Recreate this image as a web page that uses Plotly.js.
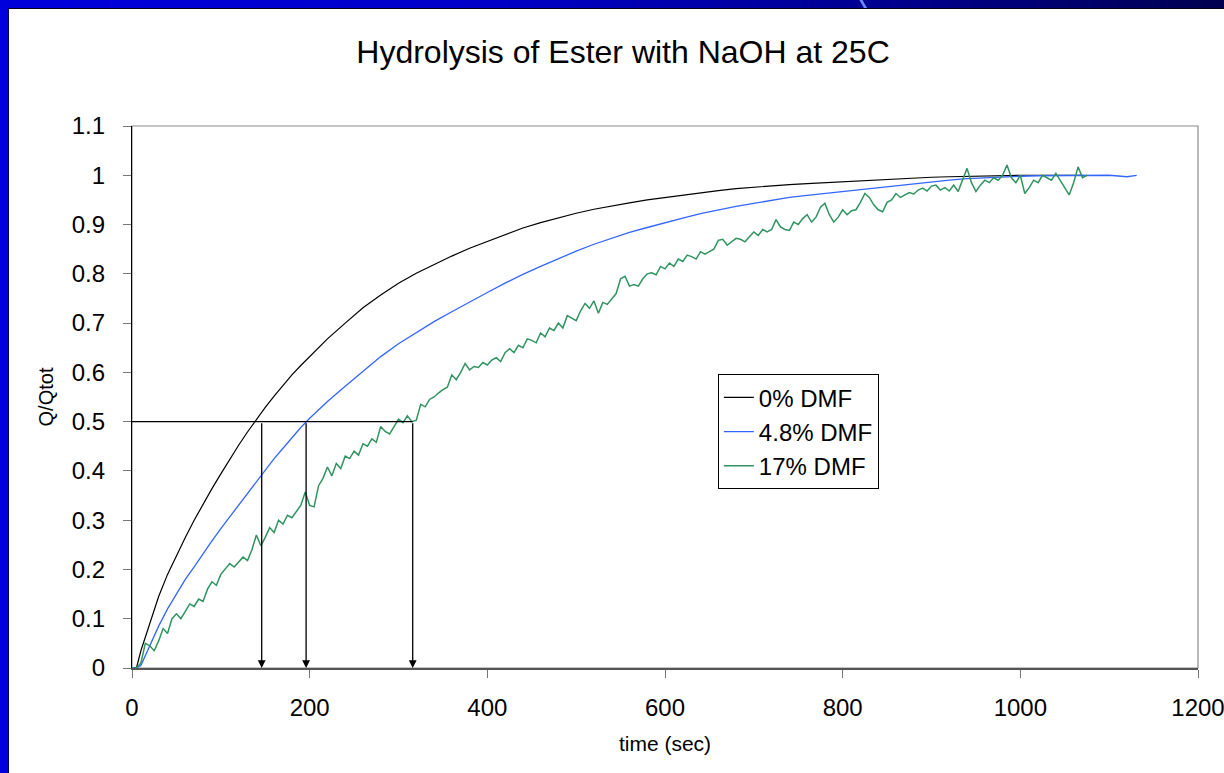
<!DOCTYPE html>
<html>
<head>
<meta charset="utf-8">
<script src="https://cdn.plot.ly/plotly-3.0.1.min.js"></script>
<style>
html,body{margin:0;padding:0;background:#fff;}
#wrap{position:relative;width:1224px;height:773px;background:#fff;overflow:hidden;}
#topband{position:absolute;left:0;top:0;width:1224px;height:8px;background:linear-gradient(to right,#0000dc 0%,#0000c8 40%,#00008a 75%,#000050 100%);}
#topline{position:absolute;left:8px;top:8px;width:1216px;height:1px;background:#000020;}
#leftband{position:absolute;left:0;top:0;width:8px;height:773px;background:#0000dc;}
#leftline{position:absolute;left:8px;top:8px;width:1px;height:765px;background:#000040;}
#stripe{position:absolute;left:862px;top:0;width:3px;height:9px;background:#6a8cff;transform:skewX(30deg);}
#chart{position:absolute;left:0;top:0;width:1224px;height:773px;}
</style>
</head>
<body>
<div id="wrap">
<div id="chart"></div>
<div id="topband"></div><div id="stripe"></div><div id="topline"></div>
<div id="leftband"></div><div id="leftline"></div>
</div>
<script>
// ---- data ----
const seriesNames = ["0% DMF", "4.8% DMF", "17% DMF"];

const t0 = [0,5,10,20,30,40,50,60,70,80,90,100,110,120,130,140,150,160,170,180,190,200,
  220,240,260,280,300,320,340,360,380,400,420,440,460,480,500,520,540,560,580,600,620,640,660,680,
  700,720,740,760,780,800,820,840,860,880,900,920,940,960,980,1000,1020,1040,1060,1071];
const q0 = [0,0.0,0.035,0.09,0.145,0.19,0.228,0.265,0.3,0.333,0.364,0.394,0.424,0.452,0.479,0.505,0.529,0.552,0.574,0.595,0.614,0.632,
  0.668,0.7,0.731,0.757,0.781,0.801,0.819,0.836,0.852,0.866,0.88,0.893,0.904,0.914,0.923,0.931,0.938,0.944,0.95,0.955,0.96,0.965,0.969,0.973,
  0.976,0.979,0.981,0.983,0.985,0.987,0.989,0.991,0.993,0.994,0.996,0.997,0.998,0.999,1.0,1.0,1.0,1.0,1.0,1.0];

const t48 = [0,5,10,20,30,40,50,60,70,80,90,100,110,120,130,140,150,160,170,180,190,200,
  220,240,260,280,300,320,340,360,380,400,420,440,460,480,500,520,540,560,580,600,620,640,660,680,
  700,720,740,760,780,800,820,840,860,880,900,920,940,960,980,1000,1020,1040,1060,1080,1100,1120,1131];
const q48 = [0,0,0.005,0.045,0.085,0.12,0.15,0.18,0.205,0.232,0.258,0.283,0.307,0.331,0.355,0.379,0.403,0.425,0.446,0.468,0.488,0.507,
  0.541,0.572,0.602,0.632,0.658,0.681,0.703,0.723,0.743,0.762,0.781,0.799,0.815,0.831,0.846,0.86,0.872,0.884,0.894,0.904,0.913,0.922,0.93,0.937,
  0.943,0.949,0.955,0.959,0.963,0.967,0.971,0.975,0.979,0.983,0.986,0.99,0.993,0.995,0.997,0.998,0.999,0.999,1.0,1.0,1.0,0.997,1.0];

const t17 = [0,5,10,15,20,25,30,35,40,45,50,55,60,65,70,75,80,85,90,95,
  100,105,110,115,120,125,130,135,140,145,150,155,160,165,170,175,180,185,190,195,
  200,205,210,215,220,225,230,235,240,245,250,255,260,265,270,275,280,285,290,295,
  300,305,310,315,320,325,330,335,340,345,350,355,360,365,370,375,380,385,390,395,
  400,405,410,415,420,425,430,435,440,445,450,455,460,465,470,475,480,485,490,495,
  500,505,510,515,520,525,530,535,540,545,550,555,560,565,570,575,580,585,590,595,
  600,605,610,615,620,625,630,635,640,645,650,655,660,665,670,675,680,685,690,695,
  700,705,710,715,720,725,730,735,740,745,750,755,760,765,770,775,780,785,790,795,
  800,805,810,815,820,825,830,835,840,845,850,855,860,865,870,875,880,885,890,895,
  900,905,910,915,920,925,930,935,940,945,950,955,960,965,970,975,980,985,990,995,
  1000,1005,1010,1015,1020,1025,1030,1035,1040,1045,1050,1055,1060,1065,1070,1075];
const q17 = [0,0.0,0.01,0.05,0.045,0.035,0.055,0.08,0.07,0.1,0.11,0.1,0.115,0.13,0.125,0.14,0.135,0.16,0.175,0.168,
  0.19,0.2,0.212,0.205,0.215,0.225,0.218,0.24,0.27,0.248,0.265,0.285,0.275,0.3,0.292,0.31,0.305,0.318,0.33,0.357,
  0.33,0.327,0.37,0.385,0.408,0.39,0.415,0.405,0.43,0.425,0.44,0.432,0.455,0.45,0.465,0.458,0.49,0.48,0.475,0.49,
  0.505,0.498,0.512,0.5,0.503,0.535,0.53,0.545,0.55,0.558,0.565,0.57,0.595,0.585,0.6,0.618,0.605,0.612,0.61,0.62,
  0.615,0.625,0.63,0.622,0.64,0.648,0.64,0.655,0.65,0.668,0.665,0.66,0.68,0.672,0.69,0.685,0.7,0.69,0.715,0.71,
  0.705,0.725,0.74,0.73,0.745,0.72,0.742,0.738,0.75,0.76,0.79,0.795,0.775,0.778,0.775,0.79,0.8,0.802,0.798,0.815,
  0.81,0.822,0.815,0.83,0.825,0.838,0.835,0.83,0.845,0.84,0.845,0.85,0.868,0.87,0.858,0.865,0.872,0.87,0.865,0.875,
  0.885,0.878,0.89,0.885,0.89,0.91,0.895,0.89,0.888,0.905,0.9,0.912,0.92,0.905,0.915,0.935,0.943,0.92,0.905,0.915,
  0.93,0.92,0.928,0.93,0.945,0.963,0.955,0.94,0.93,0.926,0.945,0.95,0.963,0.955,0.96,0.965,0.962,0.97,0.974,0.968,
  0.978,0.98,0.97,0.975,0.968,0.98,0.967,0.99,1.014,0.985,0.967,0.98,0.99,0.985,0.995,0.99,1.0,1.021,0.995,0.985,
  1.0,0.963,0.975,0.99,0.985,1.0,0.995,0.99,1.004,0.99,0.975,0.96,0.985,1.017,0.995,1.0];

// half-life markers (time where Q/Qtot = 0.5)
const halfTimes = [146, 196, 316];
const halfLevel = 0.5;

const xTicks = [0,200,400,600,800,1000,1200];
const yTicks = [0,0.1,0.2,0.3,0.4,0.5,0.6,0.7,0.8,0.9,1,1.1];

// ---- chart ----
const FONT = "Liberation Sans, Arial, sans-serif";
const colors = ["#000000", "#3366ff", "#2f9460"];
const widths = [1.2, 1.3, 1.5];
const xs = [t0, t48, t17], ys = [q0, q48, q17];

const traces = seriesNames.map((n, i) => ({
  type: "scatter", mode: "lines", name: n, x: xs[i], y: ys[i],
  legendgroup: "g" + i,
  line: {color: colors[i], width: widths[i]}
}));

const annotations = halfTimes.map(t => ({
  x: t, y: 0, ax: t, ay: halfLevel, xref: "x", yref: "y", axref: "x", ayref: "y",
  text: "", showarrow: true, arrowhead: 2, arrowsize: 1.2, arrowwidth: 1.3, arrowcolor: "#000", standoff: 0
}));

const shapes = [
  {type: "rect", xref: "paper", yref: "paper", x0: 0, x1: 1, y0: 0, y1: 1, line: {color: "#8c8c8c", width: 1.2}, layer: "below"},
  {type: "line", xref: "x", yref: "y", x0: 0, x1: Math.max(...halfTimes), y0: halfLevel, y1: halfLevel, line: {color: "#000", width: 1.4}}
];

const layout = {
  width: 1224, height: 773,
  paper_bgcolor: "rgba(0,0,0,0)", plot_bgcolor: "#fff",
  margin: {l: 132, r: 26, t: 126, b: 105, pad: 0},
  title: {text: "Hydrolysis of Ester with NaOH at 25C", font: {family: FONT, size: 32, color: "#000"},
    xref: "container", x: 0.509, xanchor: "center", yref: "container", y: 1 - 52/773, yanchor: "middle"},
  showlegend: true,
  legend: {x: 0.5496, y: 0.542, xanchor: "left", yanchor: "top", bgcolor: "#fff", bordercolor: "#000", borderwidth: 1,
    font: {family: FONT, size: 24, color: "#000"}, tracegroupgap: 0, itemwidth: 30},
  xaxis: {range: [0, 1200], tickvals: xTicks, ticktext: xTicks.map(String), showgrid: false, zeroline: false,
    showline: true, linecolor: "#555", linewidth: 2.2, ticks: "outside", ticklen: 8, tickcolor: "#777", tickwidth: 1,
    tickfont: {family: FONT, size: 24, color: "#000"}, ticklabelstandoff: 9, ticklabeloverflow: "allow",
    title: {text: "time (sec)", font: {family: FONT, size: 21, color: "#000"}, standoff: 16}},
  yaxis: {range: [0, 1.1], tickvals: yTicks, ticktext: yTicks.map(String), showgrid: false, zeroline: false,
    showline: true, linecolor: "#000", linewidth: 1.2, ticks: "outside", ticklen: 8, tickcolor: "#777", tickwidth: 1,
    tickfont: {family: FONT, size: 24, color: "#000"}, ticklabelstandoff: 13,
    title: {text: "Q/Qtot", font: {family: FONT, size: 20, color: "#000"}, standoff: 12}},
  shapes: shapes,
  annotations: annotations
};

Plotly.newPlot("chart", traces, layout, {displayModeBar: false, staticPlot: true});
</script>
</body>
</html>
